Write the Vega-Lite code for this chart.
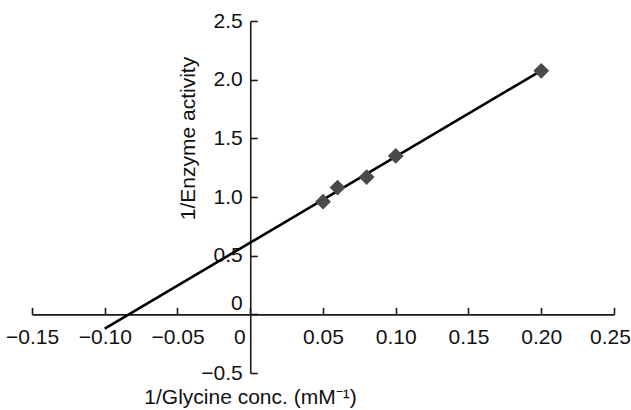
{
  "$schema": "https://vega.github.io/schema/vega-lite/v6.json",
  "width": 582,
  "height": 352,
  "autosize": "none",
  "padding": {"left": 32, "top": 21, "right": 17, "bottom": 37},
  "background": "white",
  "config": {
    "view": {"stroke": null},
    "font": "Liberation Sans",
    "axis": {
      "grid": false,
      "domainColor": "#1a1a1a",
      "domainWidth": 1.6,
      "tickColor": "#1a1a1a",
      "tickWidth": 1.6,
      "tickSize": -7,
      "labelFont": "Liberation Sans",
      "labelFontSize": 21,
      "labelColor": "#111",
      "titleFont": "Liberation Sans",
      "titleFontSize": 21,
      "titleFontWeight": "normal",
      "titleColor": "#111",
      "labelOverlap": false,
      "labelFlush": false
    }
  },
  "datasets": {
    "points": [
      {"x": 0.05, "y": 0.96},
      {"x": 0.06, "y": 1.08},
      {"x": 0.08, "y": 1.17},
      {"x": 0.10, "y": 1.35},
      {"x": 0.20, "y": 2.075}
    ],
    "fit": [
      {"x": -0.10, "y": -0.122},
      {"x": 0.20, "y": 2.078}
    ]
  },
  "layer": [
    {
      "data": {"name": "fit"},
      "mark": {"type": "line", "color": "black", "strokeWidth": 2.6},
      "encoding": {
        "x": {
          "field": "x", "type": "quantitative",
          "scale": {"domain": [-0.15, 0.25], "nice": false, "zero": false},
          "axis": {
            "values": [-0.15, -0.1, -0.05, 0, 0.05, 0.1, 0.15, 0.2, 0.25],
            "offset": {"expr": "scale('y', 0) - height"},
            "labelPadding": 19,
            "labelExpr": "datum.value == 0 ? '0' : format(datum.value, '.2f')",
            "labelOffset": {"condition": [{"test": "datum.value == 0", "value": -11}, {"test": "datum.value > 0.24", "value": -4}], "value": 0},
            "title": "1/Glycine conc. (mM⁻¹)",
            "titleX": 218,
            "titleY": 83,
            "titleBaseline": "middle",
            "titleAlign": "center"
          }
        },
        "y": {
          "field": "y", "type": "quantitative",
          "scale": {"domain": [-0.5, 2.5], "nice": false, "zero": false},
          "axis": {
            "values": [-0.5, 0, 0.5, 1, 1.5, 2, 2.5],
            "offset": {"expr": "-scale('x', 0)"},
            "labelPadding": 15,
            "labelExpr": "datum.value == 0 ? '0' : format(datum.value, '.1f')",
            "labelOffset": {"condition": {"test": "datum.value == 0", "value": -11}, "value": 0},
            "title": "1/Enzyme activity",
            "titleX": -62,
            "titleY": 117,
            "titleAngle": -90,
            "titleBaseline": "middle",
            "titleAlign": "center"
          }
        }
      }
    },
    {
      "data": {"name": "points"},
      "mark": {"type": "point", "shape": "diamond", "filled": true, "color": "#4a4a4a", "opacity": 1, "size": 250},
      "encoding": {
        "x": {"field": "x", "type": "quantitative"},
        "y": {"field": "y", "type": "quantitative"}
      }
    }
  ]
}
